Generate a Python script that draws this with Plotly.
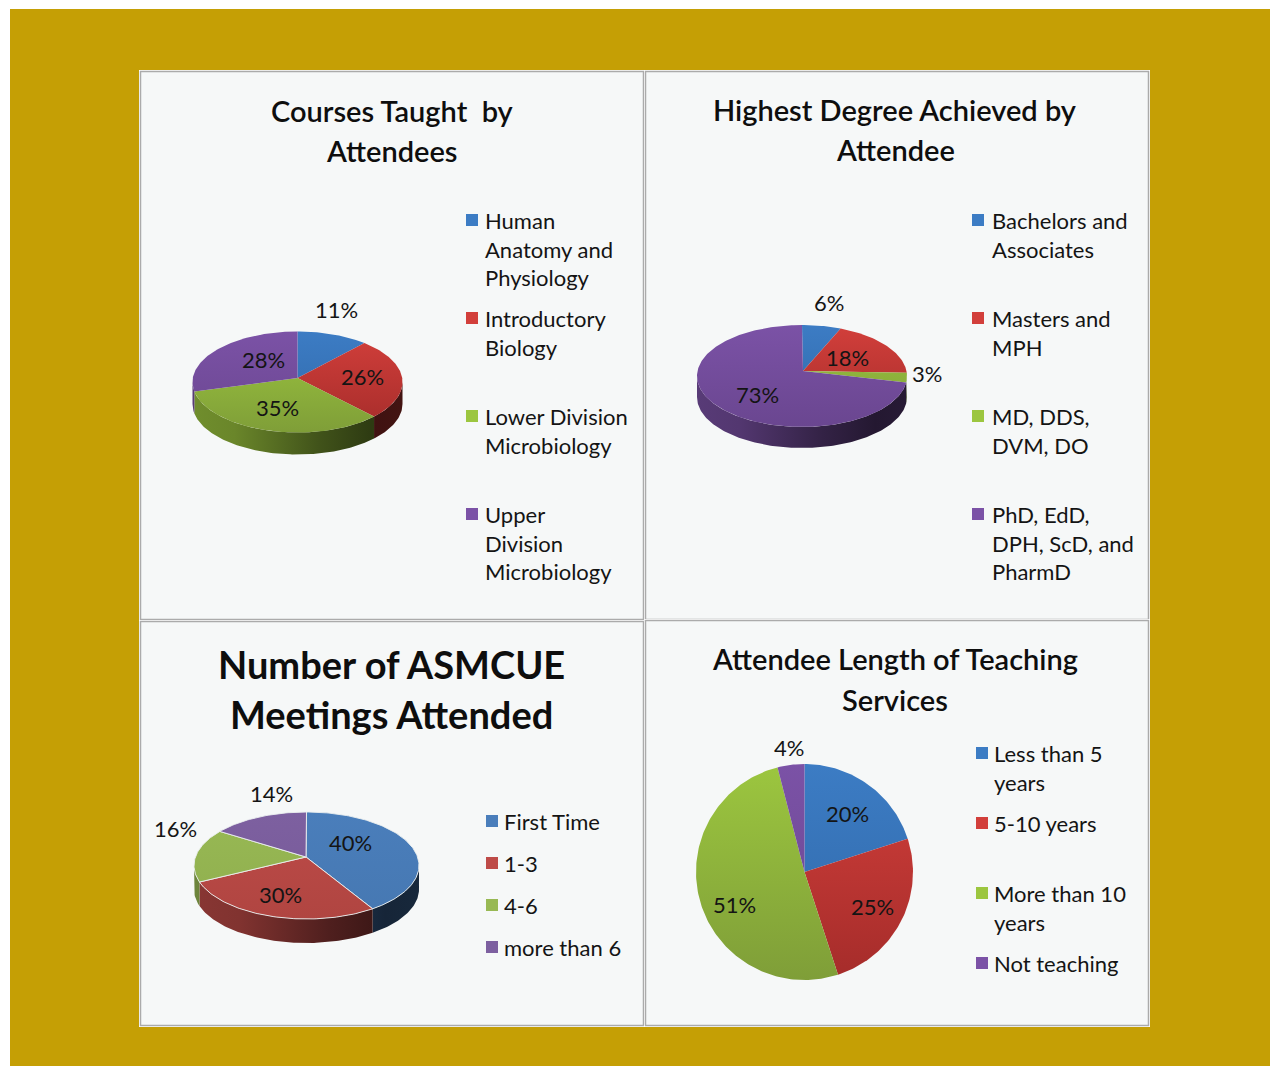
import math
import plotly.graph_objects as go

# ---------- data ----------
courses_labels = ["Human<br>Anatomy and<br>Physiology", "Introductory<br>Biology", "Lower Division<br>Microbiology", "Upper<br>Division<br>Microbiology"]
courses_values = [11, 26, 35, 28]
degree_labels = ["Bachelors and<br>Associates", "Masters and<br>MPH", "MD, DDS,<br>DVM, DO", "PhD, EdD,<br>DPH, ScD, and<br>PharmD"]
degree_values = [6, 18, 3, 73]
meetings_labels = ["First Time", "1-3", "4-6", "more than 6"]
meetings_values = [40, 30, 16, 14]
service_labels = ["Less than 5<br>years", "5-10 years", "More than 10<br>years", "Not teaching"]
service_values = [20, 25, 51, 4]

W, H = 1270, 1066
FONT = "Lato"
INK = "#141414"
BRIGHT = ["#3C7CC4", "#D23F3B", "#9CC63F", "#7B52A6"]
BRIGHT_LOW = ["#3068A8", "#A52C2A", "#7F9E38", "#6A4690"]
SOFT = ["#4A7EBB", "#BE4B48", "#98B954", "#7D60A0"]
SOFT_LOW = ["#4678B2", "#B04541", "#8FAE4E", "#775A98"]


def shade(c, f):
    r, g, b = int(c[1:3], 16), int(c[3:5], 16), int(c[5:7], 16)
    return "rgb(%d,%d,%d)" % (r * f, g * f, b * f)


panels = [
    dict(
        title=["Courses Taught  by", "Attendees"], tx=392, ty=[110, 150], tsize=29, weight=600,
        values=courses_values, labels=courses_labels,
        cx=297.5, cy=382, rx=105, ry=50.5, ax=297.5, ay=378, depth=22,
        top=BRIGHT, low=BRIGHT_LOW, edge=None,
        vx=[336, 362, 277, 263], vy=[309, 376, 407, 359],
        swx=472, txx=484, swy=[220, 318, 416, 514], first=[220, 318, 416, 514],
    ),
    dict(
        title=["Highest Degree Achieved by", "Attendee"], tx=895, ty=[109, 149], tsize=29, weight=600,
        values=degree_values, labels=degree_labels,
        cx=802, cy=376, rx=105, ry=51, ax=803, ay=371, depth=21,
        top=BRIGHT, low=BRIGHT_LOW, edge=None,
        vx=[829, 847, 927, 757], vy=[302, 357, 373, 394],
        swx=978, txx=991, swy=[220, 318, 416, 514], first=[220, 318, 416, 514],
    ),
    dict(
        title=["Number of ASMCUE", "Meetings Attended"], tx=391, ty=[664, 714], tsize=38, weight=700,
        values=meetings_values, labels=meetings_labels,
        cx=306.5, cy=865.5, rx=112.5, ry=53.5, ax=306, ay=857, depth=24,
        top=SOFT, low=SOFT_LOW, edge="rgba(235,240,240,0.9)",
        vx=[350, 280, 175, 271], vy=[842, 894, 828, 793],
        swx=492, txx=503, swy=[821, 863, 905, 947], first=[821, 863, 905, 947],
    ),
    dict(
        title=["Attendee Length of Teaching", "Services"], tx=895, ty=[658, 699], tsize=29, weight=600,
        values=service_values, labels=service_labels,
        cx=804.5, cy=872, rx=108.5, ry=108, ax=804.5, ay=872, depth=0,
        top=BRIGHT, low=BRIGHT_LOW, edge=None,
        vx=[847, 872, 734, 789], vy=[813, 906, 904, 747],
        swx=982, txx=993, swy=[753, 823, 893, 963], first=[753, 823, 893, 963],
    ),
]

fig = go.Figure()
shapes, notes = [], []

# page background and panels
shapes.append(dict(type="rect", xref="x", yref="y", x0=10, y0=9, x1=1270, y1=1066,
                   fillcolor="#C59F05", line_width=0, layer="below"))
boxes = [(140, 71, 644, 620), (645, 71, 1149, 620), (140, 621, 644, 1026), (645, 620, 1149, 1026)]
for x0, y0, x1, y1 in boxes:
    shapes.append(dict(type="rect", xref="x", yref="y", x0=x0 - 1, y0=y0 - 1, x1=x1 + 1, y1=y1 + 1,
                       fillcolor="#FFFFFF", line_width=0, layer="below"))
    shapes.append(dict(type="rect", xref="x", yref="y", x0=x0 + 0.5, y0=y0 + 0.5, x1=x1 - 0.5, y1=y1 - 0.5,
                       fillcolor="#F6F8F8", line=dict(color="#ABABAB", width=1.5), layer="below"))


def ell(p, a):
    return p["cx"] + p["rx"] * math.sin(a), p["cy"] - p["ry"] * math.cos(a)


def arc(p, a0, a1):
    n = max(2, int(abs(a1 - a0) / 0.02))
    return [ell(p, a0 + (a1 - a0) * i / n) for i in range(n + 1)]


for p in panels:
    total = sum(p["values"])
    spans, acc = [], 0
    for v in p["values"]:
        spans.append((2 * math.pi * acc / total, 2 * math.pi * (acc + v) / total))
        acc += v
    # side walls
    if p["depth"]:
        for i, (a0, a1) in enumerate(spans):
            s0, s1 = max(a0, math.pi / 2), min(a1, 3 * math.pi / 2)
            if s1 <= s0:
                continue
            rim = arc(p, s0, s1)
            xs = [q[0] for q in rim] + [q[0] for q in reversed(rim)] + [rim[0][0]]
            ys = [q[1] for q in rim] + [q[1] + p["depth"] for q in reversed(rim)] + [rim[0][1]]
            c = p["top"][i]
            fig.add_trace(go.Scatter(
                x=xs, y=ys, mode="lines", line=dict(width=0), fill="toself", hoverinfo="skip",
                fillgradient=dict(type="horizontal", start=p["cx"] - p["rx"], stop=p["cx"] + p["rx"],
                                  colorscale=[[0, shade(c, .72)], [.2, shade(c, .68)], [.6, shade(c, .42)], [.85, shade(c, .3)], [1, shade(c, .32)]]),
                showlegend=False))
    # top faces
    for i, (a0, a1) in enumerate(spans):
        rim = arc(p, a0, a1)
        xs = [p["ax"]] + [q[0] for q in rim] + [p["ax"]]
        ys = [p["ay"]] + [q[1] for q in rim] + [p["ay"]]
        line = dict(width=1, color=p["edge"]) if p["edge"] else dict(width=0)
        fig.add_trace(go.Scatter(
            x=xs, y=ys, mode="lines", line=line, fill="toself", name=p["labels"][i].replace("<br>", " "),
            fillgradient=dict(type="vertical", start=p["cy"] - p["ry"], stop=p["cy"] + p["ry"],
                              colorscale=[[0, p["top"][i]], [1, p["low"][i]]]),
            showlegend=False, hoverinfo="name"))
    # value labels
    for v, x, y in zip(p["values"], p["vx"], p["vy"]):
        notes.append(dict(x=x, y=y, text=f"{v}%", font=dict(size=22, color=INK, family=FONT), xanchor="center", yanchor="middle"))
    # legend swatches and text
    fig.add_trace(go.Scatter(
        x=[p["swx"]] * 4, y=p["swy"], mode="markers", showlegend=False, hoverinfo="skip",
        marker=dict(symbol="square", size=12, color=p["top"], line_width=0)))
    for lab, y in zip(p["labels"], p["first"]):
        n = lab.count("<br>")
        notes.append(dict(x=p["txx"], y=y - 14.5, text=lab, align="left",
                          font=dict(size=22, color=INK, family=FONT), xanchor="left", yanchor="top"))
    # title
    for line, y in zip(p["title"], p["ty"]):
        notes.append(dict(x=p["tx"], y=y, text=line,
                          font=dict(size=p["tsize"], color="#0E0E0E", family=FONT, weight=p["weight"]),
                          xanchor="center", yanchor="middle"))

for n in notes:
    n.update(xref="x", yref="y", showarrow=False, borderpad=0)

fig.update_layout(
    width=W, height=H, margin=dict(l=0, r=0, t=0, b=0),
    paper_bgcolor="#FFFFFF", plot_bgcolor="#FFFFFF",
    shapes=shapes, annotations=notes, showlegend=False,
    xaxis=dict(range=[0, W], visible=False, fixedrange=True),
    yaxis=dict(range=[H, 0], visible=False, fixedrange=True),
)
fig.write_html("out.html", config=dict(displayModeBar=False),
               post_script="document.body.style.margin='0';document.documentElement.style.overflow='hidden';")
